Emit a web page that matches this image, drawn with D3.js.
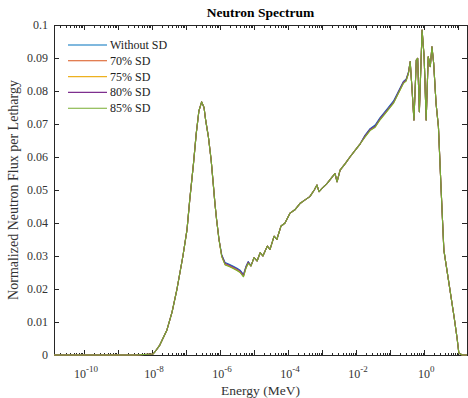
<!DOCTYPE html>
<html>
<head>
<meta charset="utf-8">
<script src="https://cdn.jsdelivr.net/npm/d3@7"></script>
<style>
  body { margin: 0; background: #fff; }
  text { font-family: 'Liberation Serif', 'Times New Roman', serif; }
</style>
</head>
<body>
<div id="chart"></div>
<script>
// energy grid, log10(E / MeV)
const logEnergy = [
  -10.88, -9.52, -8.49, -7.97, -7.91, -7.77, -7.56, -7.41, -7.27, -7.09,
  -6.97, -6.89, -6.78, -6.70, -6.62, -6.54, -6.47, -6.42, -6.34, -6.26,
  -6.20, -6.15, -6.10, -6.03, -5.95, -5.85, -5.73, -5.61, -5.50, -5.41,
  -5.31, -5.24, -5.17, -5.09, -5.00, -4.91, -4.82, -4.74, -4.61, -4.53,
  -4.41, -4.33, -4.21, -4.09, -3.94, -3.80, -3.64, -3.50, -3.36, -3.23,
  -3.15, -3.09, -3.00, -2.85, -2.70, -2.62, -2.56, -2.47, -2.32, -2.18,
  -2.03, -1.88, -1.74, -1.59, -1.44, -1.30, -1.08, -0.90, -0.77, -0.61,
  -0.53, -0.46, -0.41, -0.36, -0.30, -0.23, -0.19, -0.14, -0.06, 0.00,
  0.06, 0.12, 0.18, 0.23, 0.28, 0.35, 0.42, 0.50, 0.58, 0.74,
  0.88, 0.97, 1.02, 1.12, 1.26
]

const fluxNoSD = [
  0, 0, 0, 0.0003, 0.001, 0.003, 0.0076, 0.013, 0.0197, 0.030,
  0.038, 0.047, 0.058, 0.067, 0.074, 0.0767, 0.075, 0.071, 0.066, 0.059,
  0.052, 0.046, 0.041, 0.035, 0.0304, 0.0280, 0.0275, 0.0269, 0.0263, 0.0257,
  0.0244, 0.0268, 0.0283, 0.0270, 0.0295, 0.0285, 0.0310, 0.0300, 0.0330, 0.0320,
  0.0360, 0.0350, 0.0390, 0.0400, 0.0430, 0.0440, 0.0460, 0.0470, 0.0480, 0.0500,
  0.0515, 0.0495, 0.0505, 0.0520, 0.0540, 0.0550, 0.0525, 0.0560, 0.0580, 0.0600,
  0.0620, 0.0640, 0.0666, 0.0686, 0.0697, 0.0719, 0.0747, 0.0770, 0.0796, 0.0829,
  0.0836, 0.0858, 0.0889, 0.0813, 0.0712, 0.0894, 0.0899, 0.0737, 0.0985, 0.0904,
  0.0712, 0.0904, 0.0874, 0.0934, 0.0884, 0.0763, 0.0692, 0.0500, 0.0318, 0.0210,
  0.0116, 0.0050, 0.0006, 0, 0
]
const flux70 = [
  0, 0, 0, 0.0003, 0.001, 0.003, 0.0076, 0.013, 0.0197, 0.030,
  0.038, 0.047, 0.058, 0.067, 0.074, 0.0767, 0.075, 0.071, 0.066, 0.059,
  0.052, 0.046, 0.041, 0.035, 0.0300, 0.0275, 0.0270, 0.0264, 0.0258, 0.0252,
  0.0239, 0.0264, 0.0280, 0.0270, 0.0295, 0.0285, 0.0310, 0.0300, 0.0330, 0.0320,
  0.0360, 0.0350, 0.0390, 0.0400, 0.0430, 0.0440, 0.0460, 0.0470, 0.0480, 0.0500,
  0.0515, 0.0495, 0.0505, 0.0520, 0.0540, 0.0550, 0.0525, 0.0560, 0.0580, 0.0600,
  0.0620, 0.0640, 0.0662, 0.0682, 0.0692, 0.0714, 0.0742, 0.0765, 0.0792, 0.0825,
  0.0832, 0.0855, 0.0889, 0.0813, 0.0712, 0.0894, 0.0899, 0.0737, 0.0985, 0.0904,
  0.0712, 0.0904, 0.0874, 0.0934, 0.0884, 0.0763, 0.0692, 0.0500, 0.0318, 0.0210,
  0.0116, 0.0050, 0.0006, 0, 0
]
const flux75 = [
  0, 0, 0, 0.0003, 0.001, 0.003, 0.0076, 0.013, 0.0197, 0.030,
  0.038, 0.047, 0.058, 0.067, 0.074, 0.0767, 0.075, 0.071, 0.066, 0.059,
  0.052, 0.046, 0.041, 0.035, 0.0299, 0.0274, 0.0269, 0.0263, 0.0257, 0.0251,
  0.0238, 0.0263, 0.0279, 0.0270, 0.0295, 0.0285, 0.0310, 0.0300, 0.0330, 0.0320,
  0.0360, 0.0350, 0.0390, 0.0400, 0.0430, 0.0440, 0.0460, 0.0470, 0.0480, 0.0500,
  0.0515, 0.0495, 0.0505, 0.0520, 0.0540, 0.0550, 0.0525, 0.0560, 0.0580, 0.0600,
  0.0620, 0.0640, 0.0661, 0.0681, 0.0691, 0.0713, 0.0741, 0.0764, 0.0791, 0.0824,
  0.0831, 0.0854, 0.0889, 0.0813, 0.0712, 0.0894, 0.0899, 0.0737, 0.0985, 0.0904,
  0.0712, 0.0904, 0.0874, 0.0934, 0.0884, 0.0763, 0.0692, 0.0500, 0.0318, 0.0210,
  0.0116, 0.0050, 0.0006, 0, 0
]
const flux80 = [
  0, 0, 0, 0.0003, 0.001, 0.003, 0.0076, 0.013, 0.0197, 0.030,
  0.038, 0.047, 0.058, 0.067, 0.074, 0.0767, 0.075, 0.071, 0.066, 0.059,
  0.052, 0.046, 0.041, 0.035, 0.0302, 0.0278, 0.0273, 0.0267, 0.0261, 0.0255,
  0.0242, 0.0266, 0.0282, 0.0270, 0.0295, 0.0285, 0.0310, 0.0300, 0.0330, 0.0320,
  0.0360, 0.0350, 0.0390, 0.0400, 0.0430, 0.0440, 0.0460, 0.0470, 0.0480, 0.0500,
  0.0515, 0.0495, 0.0505, 0.0520, 0.0540, 0.0550, 0.0525, 0.0560, 0.0580, 0.0600,
  0.0620, 0.0640, 0.0664, 0.0684, 0.0694, 0.0716, 0.0744, 0.0767, 0.0794, 0.0827,
  0.0834, 0.0856, 0.0889, 0.0813, 0.0712, 0.0894, 0.0899, 0.0737, 0.0985, 0.0904,
  0.0712, 0.0904, 0.0874, 0.0934, 0.0884, 0.0763, 0.0692, 0.0500, 0.0318, 0.0210,
  0.0116, 0.0050, 0.0006, 0, 0
]
const flux85 = [
  0, 0, 0, 0.0003, 0.001, 0.003, 0.0076, 0.013, 0.0197, 0.030,
  0.038, 0.047, 0.058, 0.067, 0.074, 0.0767, 0.075, 0.071, 0.066, 0.059,
  0.052, 0.046, 0.041, 0.035, 0.0298, 0.0273, 0.0268, 0.0262, 0.0256, 0.0250,
  0.0237, 0.0262, 0.0278, 0.0270, 0.0295, 0.0285, 0.0310, 0.0300, 0.0330, 0.0320,
  0.0360, 0.0350, 0.0390, 0.0400, 0.0430, 0.0440, 0.0460, 0.0470, 0.0480, 0.0500,
  0.0515, 0.0495, 0.0505, 0.0520, 0.0540, 0.0550, 0.0525, 0.0560, 0.0580, 0.0600,
  0.0620, 0.0640, 0.0660, 0.0680, 0.0690, 0.0712, 0.0740, 0.0763, 0.0790, 0.0823,
  0.0830, 0.0853, 0.0889, 0.0813, 0.0712, 0.0894, 0.0899, 0.0737, 0.0985, 0.0904,
  0.0712, 0.0904, 0.0874, 0.0934, 0.0884, 0.0763, 0.0692, 0.0500, 0.0318, 0.0210,
  0.0116, 0.0050, 0.0006, 0, 0
]

const seriesNames = ['Without SD', '70% SD', '75% SD', '80% SD', '85% SD']
const seriesValues = [fluxNoSD, flux70, flux75, flux80, flux85]
const seriesColors = ['#0072BD', '#D95319', '#EDB120', '#7E2F8E', '#77AC30']
const yTicks = [0, 0.01, 0.02, 0.03, 0.04, 0.05, 0.06, 0.07, 0.08, 0.09, 0.1]
const xLabelExps = [-10, -8, -6, -4, -2, 0]

const width = 468
const height = 398
const plotLeft = 54, plotRight = 467, plotTop = 25, plotBottom = 355
const axisColor = '#262626'

const svg = d3.select('#chart').append('svg')
  .attr('width', width)
  .attr('height', height)

const x = d3.scaleLog()
  .domain([Math.pow(10, -10.88), Math.pow(10, 1.26)])
  .range([plotLeft, plotRight])

const y = d3.scaleLinear()
  .domain([0, 0.1])
  .range([plotBottom, plotTop])

// log tick positions
const [d0, d1] = x.domain()
const majorTicks = []
const minorTicks = []
for (let k = -11; k <= 1; k++) {
  for (let m = 1; m <= 9; m++) {
    const v = m * Math.pow(10, k)
    if (v < d0 || v > d1) continue
    if (m === 1) majorTicks.push(v)
    else minorTicks.push(v)
  }
}

const styleAxis = g => {
  g.selectAll('path.domain').attr('stroke', axisColor)
  g.selectAll('line').attr('stroke', axisColor)
  g.attr('shape-rendering', 'crispEdges')
}

// bottom & top axes (ticks inward)
svg.append('g')
  .attr('transform', `translate(0,${plotBottom})`)
  .call(d3.axisBottom(x).tickValues(majorTicks).tickSize(-5).tickSizeOuter(0).tickFormat(''))
  .call(styleAxis)
svg.append('g')
  .attr('transform', `translate(0,${plotBottom})`)
  .call(d3.axisBottom(x).tickValues(minorTicks).tickSize(-2.5).tickSizeOuter(0).tickFormat(''))
  .call(styleAxis)
svg.append('g')
  .attr('transform', `translate(0,${plotTop})`)
  .call(d3.axisTop(x).tickValues(majorTicks).tickSize(-5).tickSizeOuter(0).tickFormat(''))
  .call(styleAxis)
svg.append('g')
  .attr('transform', `translate(0,${plotTop})`)
  .call(d3.axisTop(x).tickValues(minorTicks).tickSize(-2.5).tickSizeOuter(0).tickFormat(''))
  .call(styleAxis)

// left & right axes
svg.append('g')
  .attr('transform', `translate(${plotLeft},0)`)
  .call(d3.axisLeft(y).tickValues(yTicks).tickSize(-5).tickSizeOuter(0).tickPadding(6)
    .tickFormat(d => String(+d.toFixed(2))))
  .call(styleAxis)
  .call(g => g.selectAll('text')
    .attr('fill', '#333')
    .style('font-size', '12px')
    .style('font-family', "'Liberation Serif', serif"))
svg.append('g')
  .attr('transform', `translate(${plotRight},0)`)
  .call(d3.axisRight(y).tickValues(yTicks).tickSize(-5).tickSizeOuter(0).tickFormat(''))
  .call(styleAxis)

// x tick labels 10^n
const xl = svg.append('g')
  .selectAll('text')
  .data(xLabelExps)
  .enter().append('text')
  .attr('x', d => x(Math.pow(10, d)) + 2)
  .attr('y', 378)
  .attr('text-anchor', 'middle')
  .attr('fill', '#333')
  .style('font-size', '12px')
xl.append('tspan').text('10')
xl.append('tspan')
  .attr('dy', -6)
  .style('font-size', '9px')
  .text(d => d)

// lines
const line = d3.line()
  .x((d, i) => x(Math.pow(10, logEnergy[i])))
  .y(d => y(d))

svg.append('g')
  .selectAll('path')
  .data(seriesValues)
  .enter().append('path')
  .attr('d', line)
  .attr('fill', 'none')
  .attr('stroke', (d, i) => seriesColors[i])
  .attr('stroke-width', 1.1)
  .attr('stroke-linejoin', 'round')

// title and axis labels
svg.append('text')
  .attr('x', (plotLeft + plotRight) / 2)
  .attr('y', 17)
  .attr('text-anchor', 'middle')
  .style('font-size', '13.5px')
  .style('font-weight', 'bold')
  .attr('fill', '#000')
  .text('Neutron Spectrum')

svg.append('text')
  .attr('x', (plotLeft + plotRight) / 2)
  .attr('y', 395)
  .attr('text-anchor', 'middle')
  .style('font-size', '13.5px')
  .attr('fill', '#333')
  .text('Energy (MeV)')

svg.append('text')
  .attr('transform', `translate(18,${(plotTop + plotBottom) / 2}) rotate(-90)`)
  .attr('text-anchor', 'middle')
  .style('font-size', '14px')
  .attr('fill', '#333')
  .text('Normalized Neutron Flux per Lethargy')

// legend
const legend = svg.append('g')
  .selectAll('g')
  .data(seriesNames)
  .enter().append('g')
  .attr('transform', (d, i) => `translate(68,${45 + i * 15.8})`)
legend.append('line')
  .attr('x1', 0).attr('x2', 39)
  .attr('stroke', (d, i) => seriesColors[i])
  .attr('stroke-width', 1.1)
legend.append('text')
  .attr('x', 42)
  .attr('y', 4)
  .attr('fill', '#222')
  .style('font-size', '12px')
  .text(d => d)
</script>
</body>
</html>
